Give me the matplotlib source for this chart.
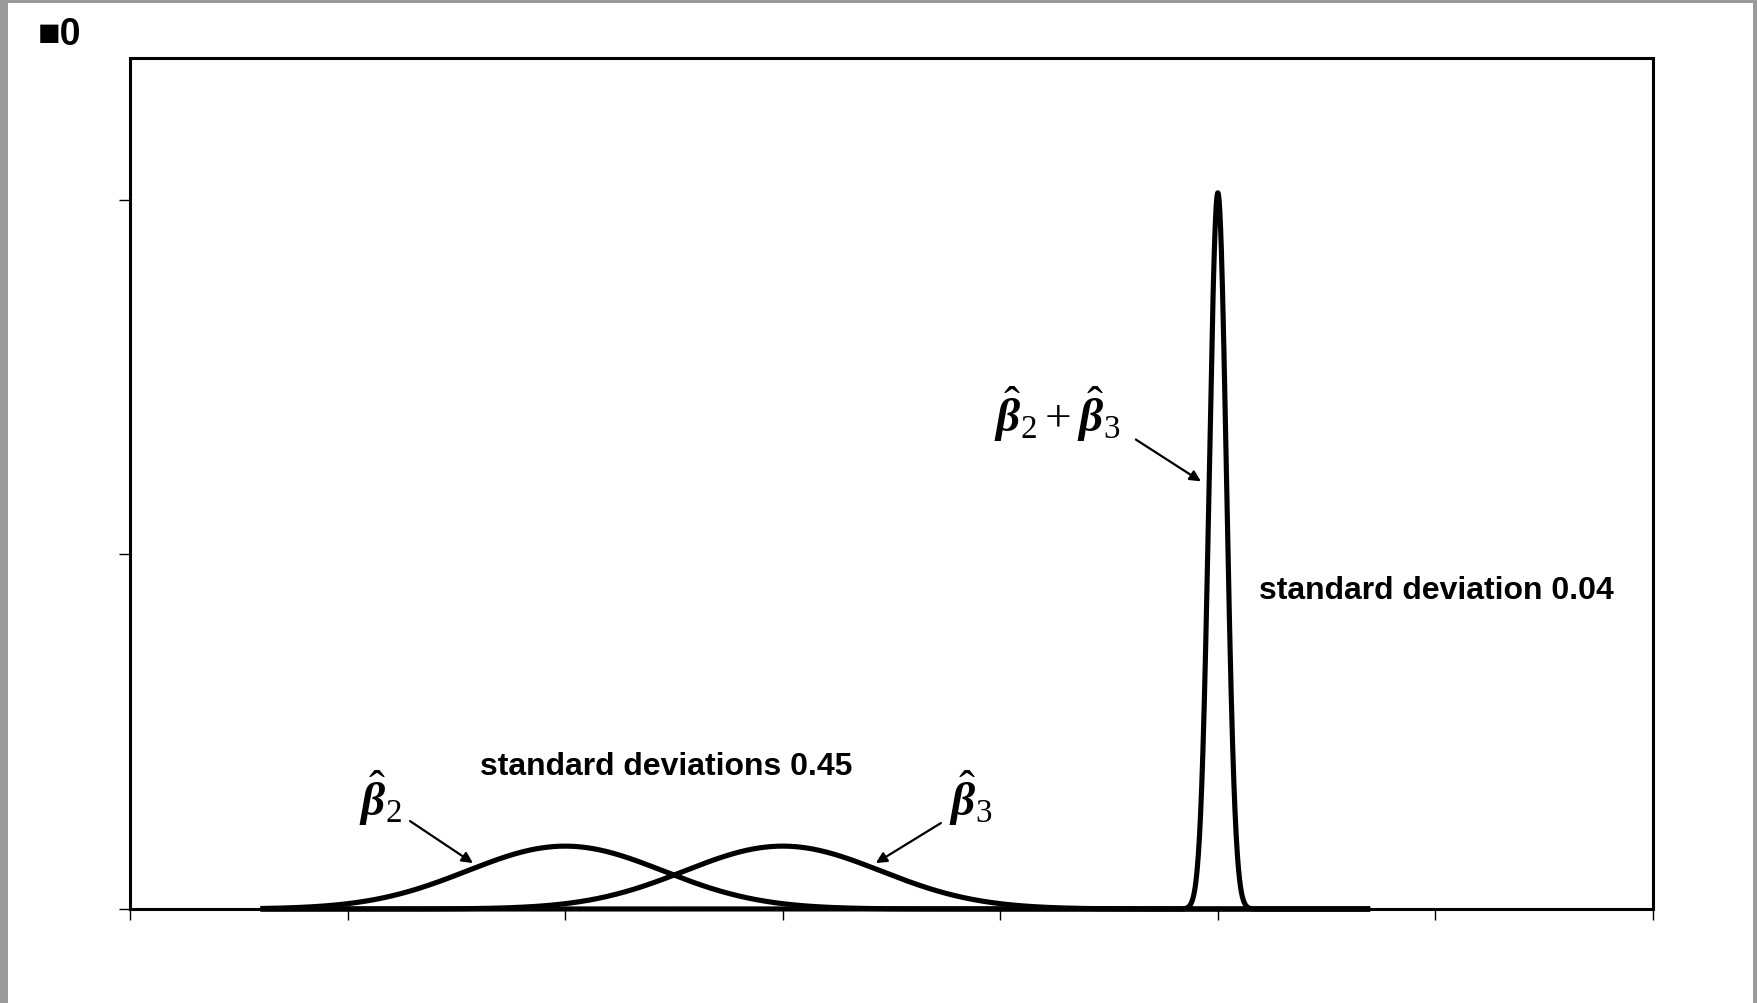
import numpy as np
import matplotlib
matplotlib.use("Agg")
import matplotlib.pyplot as plt
from matplotlib.patches import Rectangle

plt.rcParams['mathtext.fontset'] = 'custom'
plt.rcParams['mathtext.rm'] = 'Liberation Serif'
plt.rcParams['mathtext.it'] = 'Liberation Serif:italic:bold'
plt.rcParams['mathtext.bf'] = 'Liberation Serif:bold'

# Data
curve_names = ["beta2", "beta3", "beta2+beta3"]
means = [2.0, 3.0, 5.0]
sds = [0.45, 0.45, 0.0395]
x_range = [0.6, 5.7]
x_ticks = [0, 1, 2, 3, 4, 5, 6, 7]
y_ticks = [0, 5, 10]
x_lim = [0, 7]
y_lim = [0, 12]

W, H = 1757, 1004
fig = plt.figure(figsize=(W / 100, H / 100), dpi=100)
fig.patch.set_facecolor('white')
ax = fig.add_axes([130 / W, 1 - 910 / H, (1653 - 130) / W, (910 - 59) / H])

x = np.linspace(x_range[0], x_range[1], 4000)
for m, s in zip(means, sds):
    y = np.exp(-0.5 * ((x - m) / s) ** 2) / (s * np.sqrt(2 * np.pi))
    ax.plot(x, y, color='black', lw=3.7, clip_on=False, solid_capstyle='butt')

ax.set_xlim(*x_lim)
ax.set_ylim(*y_lim)
ax.set_xticks(x_ticks)
ax.set_yticks(y_ticks)
ax.set_xticklabels([])
ax.set_yticklabels([])
ax.tick_params(direction='out', length=8, width=1.0, color='black')
for sp in ax.spines.values():
    sp.set_linewidth(2.2)
    sp.set_color('black')

sans = ['Liberation Sans', 'DejaVu Sans']
ax.text(2.463, 2.02, "standard deviations 0.45", ha='center', va='center',
        fontsize=23, fontweight='bold', family=sans)
ax.text(5.188, 4.50, "standard deviation 0.04", ha='left', va='center',
        fontsize=23, fontweight='bold', family=sans)

lab_fs = 34
ax.text(1.153, 1.58, r'$\hat{\beta}_2$', ha='center', va='center', fontsize=lab_fs)
ax.text(3.865, 1.58, r'$\hat{\beta}_3$', ha='center', va='center', fontsize=lab_fs)
ax.text(4.26, 7.0, r'$\hat{\beta}_2+\hat{\beta}_3$', ha='center', va='center', fontsize=lab_fs)

ap = dict(arrowstyle='-|>', color='black', lw=1.6, mutation_scale=16,
          shrinkA=0, shrinkB=0)
ax.annotate('', xy=(1.576, 0.648), xytext=(1.287, 1.24), arrowprops=ap)
ax.annotate('', xy=(3.428, 0.648), xytext=(3.727, 1.212), arrowprops=ap)
ax.annotate('', xy=(4.922, 6.03), xytext=(4.623, 6.62), arrowprops=ap)

fig.text(38 / W, 1 - 45 / H, "■0", ha='left', va='baseline', fontsize=27,
         fontweight='bold', family=['Liberation Sans', 'DejaVu Sans'])

gray = '#9a9a9a'
fig.patches.append(Rectangle((0, 1 - 4 / H), 1, 4 / H, transform=fig.transFigure,
                             facecolor=gray, edgecolor='none', zorder=10))
fig.patches.append(Rectangle((0, 0), 8 / W, 1, transform=fig.transFigure,
                             facecolor=gray, edgecolor='none', zorder=10))
fig.patches.append(Rectangle((1 - 4 / W, 0), 4 / W, 1, transform=fig.transFigure,
                             facecolor=gray, edgecolor='none', zorder=10))

fig.savefig('out.png', dpi=100, facecolor='white')
